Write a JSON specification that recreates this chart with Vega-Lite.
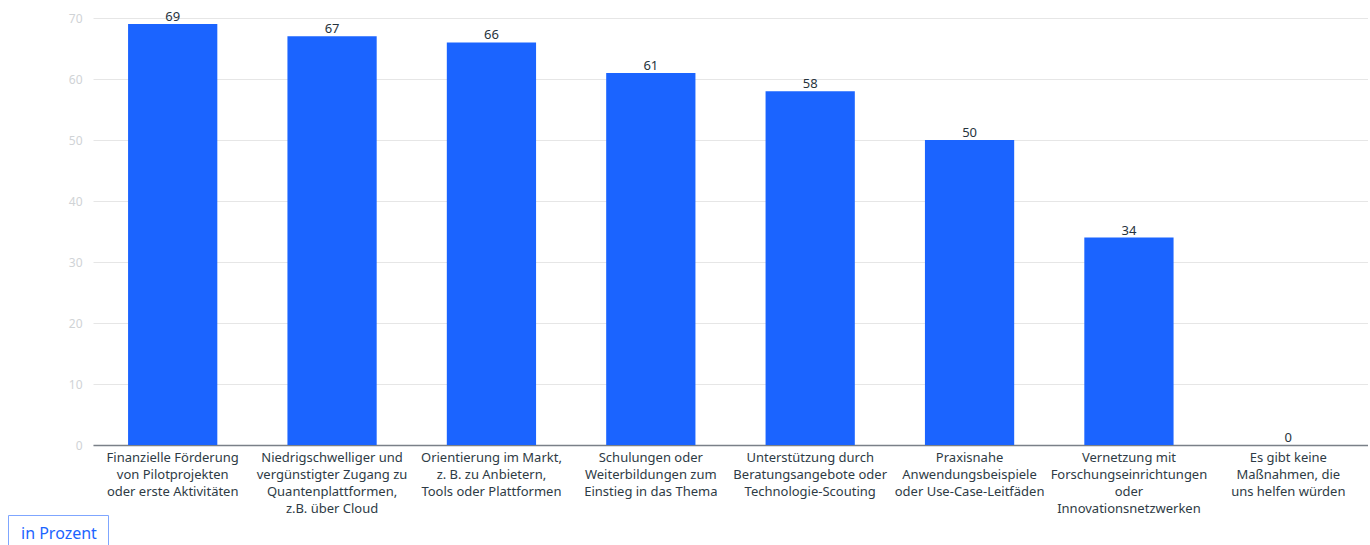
{
  "$schema": "https://vega.github.io/schema/vega-lite/v6.json",
  "width": 1275,
  "height": 427,
  "padding": {"left": 0, "top": 11, "right": 0, "bottom": 0},
  "background": "white",
  "config": {
    "view": {"stroke": null},
    "font": "Noto Sans"
  },
  "data": {
    "values": [
      {"massnahme": "Finanzielle Förderung|von Pilotprojekten|oder erste Aktivitäten", "wert": 69},
      {"massnahme": "Niedrigschwelliger und|vergünstigter Zugang zu|Quantenplattformen,|z.B. über Cloud", "wert": 67},
      {"massnahme": "Orientierung im Markt,|z. B. zu Anbietern,|Tools oder Plattformen", "wert": 66},
      {"massnahme": "Schulungen oder|Weiterbildungen zum|Einstieg in das Thema", "wert": 61},
      {"massnahme": "Unterstützung durch|Beratungsangebote oder|Technologie-Scouting", "wert": 58},
      {"massnahme": "Praxisnahe|Anwendungsbeispiele|oder Use-Case-Leitfäden", "wert": 50},
      {"massnahme": "Vernetzung mit|Forschungseinrichtungen|oder|Innovationsnetzwerken", "wert": 34},
      {"massnahme": "Es gibt keine|Maßnahmen, die|uns helfen würden", "wert": 0}
    ]
  },
  "encoding": {
    "x": {
      "field": "massnahme",
      "type": "nominal",
      "sort": null,
      "scale": {"paddingInner": 0.44, "paddingOuter": 0.22},
      "axis": {
        "title": null,
        "labelAngle": 0,
        "labelExpr": "split(datum.label, '|')",
        "labelFontSize": 13,
        "labelColor": "#2e3b45",
        "labelLineHeight": 17,
        "labelPadding": 6,
        "labelLimit": 300,
        "ticks": false,
        "domainColor": "#7a8088",
        "domainWidth": 1.5
      }
    },
    "y": {
      "field": "wert",
      "type": "quantitative",
      "scale": {"domain": [0, 70]},
      "axis": {
        "title": null,
        "values": [0, 10, 20, 30, 40, 50, 60, 70],
        "domain": false,
        "ticks": false,
        "labelColor": "#d0d3d6",
        "labelFontSize": 12,
        "labelPadding": 11,
        "gridColor": "#e6e6e6",
        "minExtent": 93,
        "maxExtent": 93
      }
    }
  },
  "layer": [
    {
      "mark": {"type": "bar"},
      "encoding": {
        "color": {
          "datum": "in Prozent",
          "scale": {"range": ["#1b64ff"]},
          "legend": {
            "title": null,
            "orient": "none",
            "legendX": -85,
            "legendY": 497,
            "symbolOpacity": 0,
            "symbolSize": 0,
            "symbolStrokeWidth": 0,
            "symbolOffset": -14,
            "labelFontSize": 16,
            "labelColor": "#1b64ff",
            "strokeColor": "#7fa6ff",
            "padding": 11,
            "labelOffset": 0
          }
        }
      }
    },
    {
      "mark": {"type": "text", "dy": -7, "fontSize": 13, "color": "#26333d"},
      "encoding": {"text": {"field": "wert", "type": "quantitative"}}
    }
  ]
}
